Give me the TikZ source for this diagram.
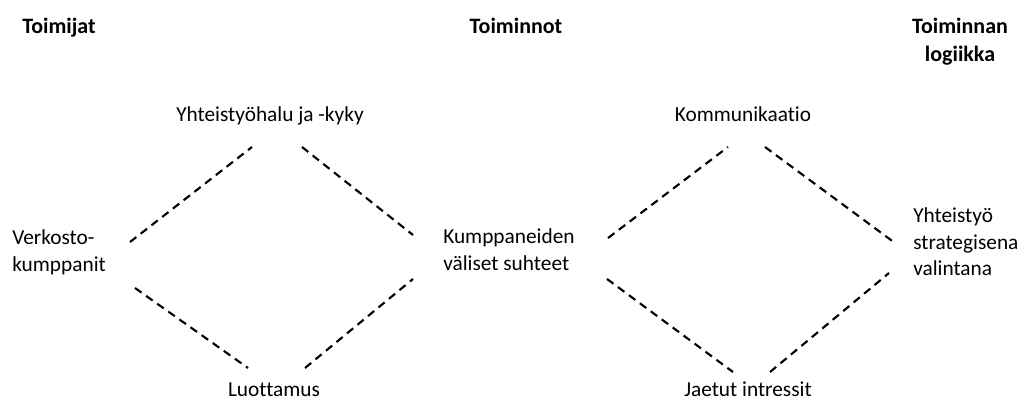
\documentclass[tikz,border=0pt]{standalone}
\usepackage{fontspec}
\setmainfont[RawFeature={-liga}]{Carlito}

\tikzset{
  concept/.style={font=\fontsize{16}{20}\selectfont, inner sep=0pt, align=left},
  heading/.style={font=\fontsize{16.5}{21}\selectfont\bfseries, inner sep=0pt, align=center},
  link/.style={line width=1.6pt, dash pattern=on 6pt off 4.2pt}
}

\begin{document}
\begin{tikzpicture}[x=0.75pt, y=-0.75pt]
    \useasboundingbox (0,0) rectangle (1026,400);
    % otsikot
    \node[heading, anchor=base] (toimijat) at (59,33) {Toimijat};
    \node[heading, anchor=base] (toiminnot) at (516,33) {Toiminnot};
    \node[heading, anchor=north] (logiikka) at (960,18) {Toiminnan\\logiikka};
    % kasitteet
    \node[concept, anchor=base] (halu) at (270,121) {Yhteistyöhalu ja -kyky};
    \node[concept, anchor=west] (verkosto) at (12,252) {Verkosto-\\kumppanit};
    \node[concept, anchor=base] (luottamus) at (274,396) {Luottamus};
    \node[concept, anchor=west] (suhteet) at (443,250) {Kumppaneiden\\väliset suhteet};
    \node[concept, anchor=base] (kommunikaatio) at (743,121) {Kommunikaatio};
    \node[concept, anchor=base] (intressit) at (748,396) {Jaetut intressit};
    \node[concept, anchor=west] (valinta) at (913,242) {Yhteistyö\\strategisena\\valintana};
    % viivojen paat
    \coordinate (verkosto-ne) at (130,242);
    \coordinate (verkosto-se) at (135,288);
    \coordinate (halu-sw) at (252,147);
    \coordinate (halu-se) at (302,147);
    \coordinate (suhteet-nw) at (413,235);
    \coordinate (suhteet-sw) at (413,279);
    \coordinate (luottamus-nw) at (248,368);
    \coordinate (luottamus-ne) at (305,368);
    \coordinate (suhteet-ne) at (608,238);
    \coordinate (suhteet-se) at (607,279);
    \coordinate (kommunikaatio-sw) at (728,147);
    \coordinate (kommunikaatio-se) at (765,147);
    \coordinate (valinta-nw) at (895,243);
    \coordinate (valinta-sw) at (889,273);
    \coordinate (intressit-nw) at (733,372);
    \coordinate (intressit-ne) at (770,372);
    % katkoviivat
    \draw[link] (verkosto-ne) -- (halu-sw);
    \draw[link] (halu-se) -- (suhteet-nw);
    \draw[link] (verkosto-se) -- (luottamus-nw);
    \draw[link] (luottamus-ne) -- (suhteet-sw);
    \draw[link] (suhteet-ne) -- (kommunikaatio-sw);
    \draw[link] (kommunikaatio-se) -- (valinta-nw);
    \draw[link] (suhteet-se) -- (intressit-nw);
    \draw[link] (intressit-ne) -- (valinta-sw);
\end{tikzpicture}
\end{document}
